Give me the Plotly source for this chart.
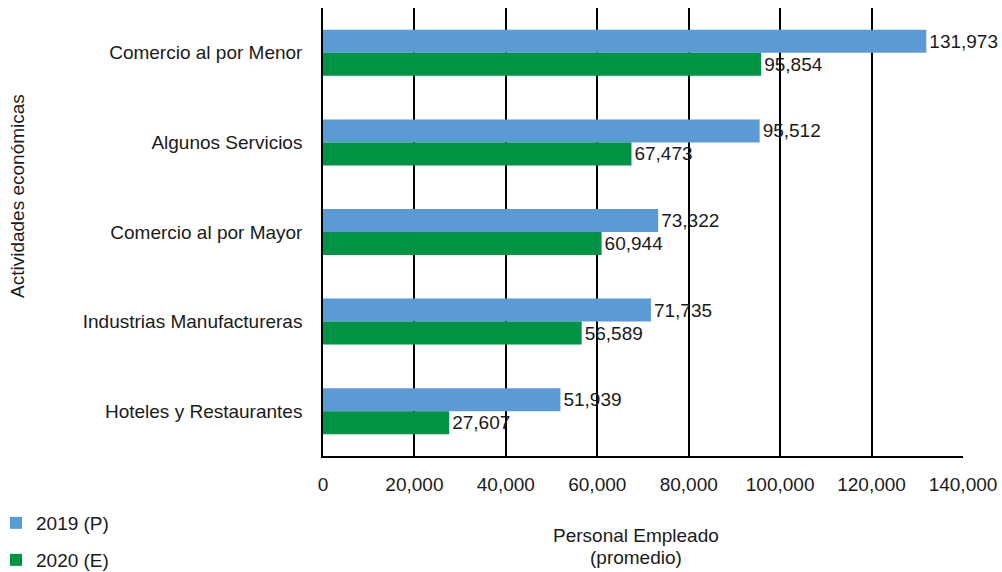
import plotly.graph_objects as go

categories = ["Comercio al por Menor", "Algunos Servicios", "Comercio al por Mayor",
              "Industrias Manufactureras", "Hoteles y Restaurantes"]
values_2019 = [131973, 95512, 73322, 71735, 51939]
values_2020 = [95854, 67473, 60944, 56589, 27607]
series_names = ["2019 (P)", "2020 (E)"]
tick_vals = [0, 20000, 40000, 60000, 80000, 100000, 120000, 140000]

FONT = "Liberation Sans, Arial, sans-serif"
TXT = "#1a1a1a"
FS = 19

W, H = 1002, 572
L, R, T, B = 323, 1002 - 963, 8, 572 - 456
PW, PH = W - L - R, H - T - B


def px_x(x):
    return (x - L) / PW


def px_y(y):
    return (H - B - y) / PH


fig = go.Figure()
fig.add_trace(go.Bar(
    y=categories, x=values_2019, orientation="h", name=series_names[0],
    marker=dict(color="#5B9BD5", line=dict(width=0)),
    text=[f"{v:,}" for v in values_2019], textposition="outside",
    textfont=dict(size=FS, color=TXT, family=FONT), cliponaxis=False,
    legend="legend",
))
fig.add_trace(go.Bar(
    y=categories, x=values_2020, orientation="h", name=series_names[1],
    marker=dict(color="#009245", line=dict(width=0)),
    text=[f"{v:,}" for v in values_2020], textposition="outside",
    textfont=dict(size=FS, color=TXT, family=FONT), cliponaxis=False,
    legend="legend2",
))

fig.update_layout(
    width=W, height=H,
    margin=dict(l=L, r=R, t=T, b=B, autoexpand=False),
    paper_bgcolor="white", plot_bgcolor="white",
    barmode="group", bargap=0.487, bargroupgap=0,
    font=dict(family=FONT, size=FS, color=TXT),
    xaxis=dict(
        range=[0, 140000], tickvals=tick_vals, tickformat=",",
        showgrid=True, gridcolor="black", gridwidth=1.5,
        showline=True, linecolor="black", linewidth=1.5,
        zeroline=False, ticks="", ticklabelstandoff=10,
        tickfont=dict(size=FS, color=TXT, family=FONT),
    ),
    yaxis=dict(
        autorange="reversed", showline=True, linecolor="black", linewidth=1.5,
        showgrid=False, ticks="", ticklabelstandoff=15,
        tickfont=dict(size=FS, color=TXT, family=FONT),
    ),
    legend=dict(x=px_x(-4), y=px_y(523), xanchor="left", yanchor="middle",
                font=dict(size=FS, color=TXT, family=FONT), bgcolor="rgba(0,0,0,0)"),
    legend2=dict(x=px_x(-4), y=px_y(560), xanchor="left", yanchor="middle",
                 font=dict(size=FS, color=TXT, family=FONT), bgcolor="rgba(0,0,0,0)"),
    showlegend=True,
    annotations=[
        dict(text="Actividades económicas", textangle=-90, xref="paper", yref="paper",
             x=px_x(18), y=px_y(196), xanchor="center", yanchor="middle", showarrow=False,
             font=dict(size=FS, color=TXT, family=FONT)),
        dict(text="Personal Empleado", xref="paper", yref="paper",
             x=px_x(636), y=px_y(535), xanchor="center", yanchor="middle", showarrow=False,
             font=dict(size=FS, color=TXT, family=FONT)),
        dict(text="(promedio)", xref="paper", yref="paper",
             x=px_x(636), y=px_y(557), xanchor="center", yanchor="middle", showarrow=False,
             font=dict(size=FS, color=TXT, family=FONT)),
    ],
)

fig.write_html(
    "out.html",
    config={"displayModeBar": False},
    post_script="document.body.style.margin='0';document.body.style.overflow='hidden';",
)
